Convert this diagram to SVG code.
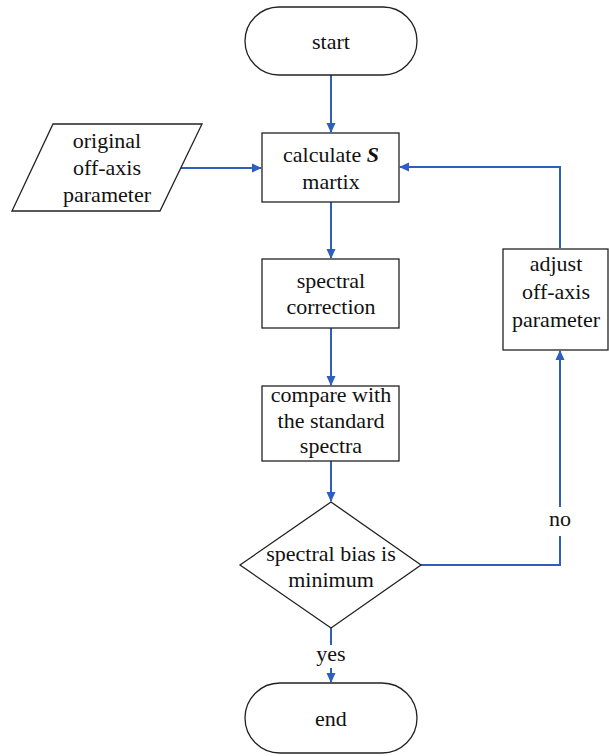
<svg xmlns="http://www.w3.org/2000/svg" width="609" height="756" viewBox="0 0 609 756">
<style>
.n{fill:#fff;stroke:#222;stroke-width:1.3}
.t{font-family:'Liberation Serif','Tinos','DejaVu Serif',serif;font-size:22px;fill:#111;text-anchor:middle}
.c{fill:none;stroke:#2f5fbe;stroke-width:2}
</style>
<defs>
<marker id="ah" markerWidth="10" markerHeight="10" refX="9" refY="5" orient="auto" markerUnits="userSpaceOnUse">
<path d="M0,0.5 L10,5 L0,9.5 Z" fill="#2f5fbe"/>
</marker>
</defs>
<rect width="609" height="756" fill="#fff"/>
<g id="connectors">
<path class="c" d="M331,75 V132" marker-end="url(#ah)"/>
<path class="c" d="M180,168 H261" marker-end="url(#ah)"/>
<path class="c" d="M331,202 V258" marker-end="url(#ah)"/>
<path class="c" d="M331,328 V385" marker-end="url(#ah)"/>
<path class="c" d="M331,461 V501" marker-end="url(#ah)"/>
<path class="c" d="M421,565 H560 V536 M560,507 V351" marker-end="url(#ah)"/>
<path class="c" d="M560,248 V167 H400" marker-end="url(#ah)"/>
<path class="c" d="M331,628 V645 M331,668 V682" marker-end="url(#ah)"/>
<text class="t" x="560" y="526">no</text>
<text class="t" x="331" y="661">yes</text>
</g>
<g id="start">
<rect class="n" x="245" y="7" width="172" height="68" rx="34"/>
<text class="t" x="331" y="49">start</text>
</g>
<g id="input">
<polygon class="n" points="53,124 202,124 160,211 12,211"/>
<text class="t" x="107" y="148">original</text>
<text class="t" x="107" y="175">off-axis</text>
<text class="t" x="107" y="202">parameter</text>
</g>
<g id="calc">
<rect class="n" x="262" y="133" width="137" height="69"/>
<text class="t" x="331" y="162">calculate <tspan font-weight="bold" font-style="italic">S</tspan></text>
<text class="t" x="331" y="189">martix</text>
</g>
<g id="correction">
<rect class="n" x="262" y="259" width="137" height="69"/>
<text class="t" x="331" y="288">spectral</text>
<text class="t" x="331" y="314">correction</text>
</g>
<g id="compare">
<rect class="n" x="262" y="386" width="137" height="75"/>
<text class="t" x="331" y="402">compare with</text>
<text class="t" x="331" y="428">the standard</text>
<text class="t" x="331" y="453">spectra</text>
</g>
<g id="decision">
<polygon class="n" points="331,502 421,565 331,628 240,565"/>
<text class="t" x="331" y="561">spectral bias is</text>
<text class="t" x="331" y="587">minimum</text>
</g>
<g id="adjust">
<rect class="n" x="503" y="249" width="105" height="101"/>
<text class="t" x="556" y="271">adjust</text>
<text class="t" x="556" y="299">off-axis</text>
<text class="t" x="556" y="327">parameter</text>
</g>
<g id="end">
<rect class="n" x="245" y="683" width="172" height="70" rx="35"/>
<text class="t" x="331" y="726">end</text>
</g>
</svg>
